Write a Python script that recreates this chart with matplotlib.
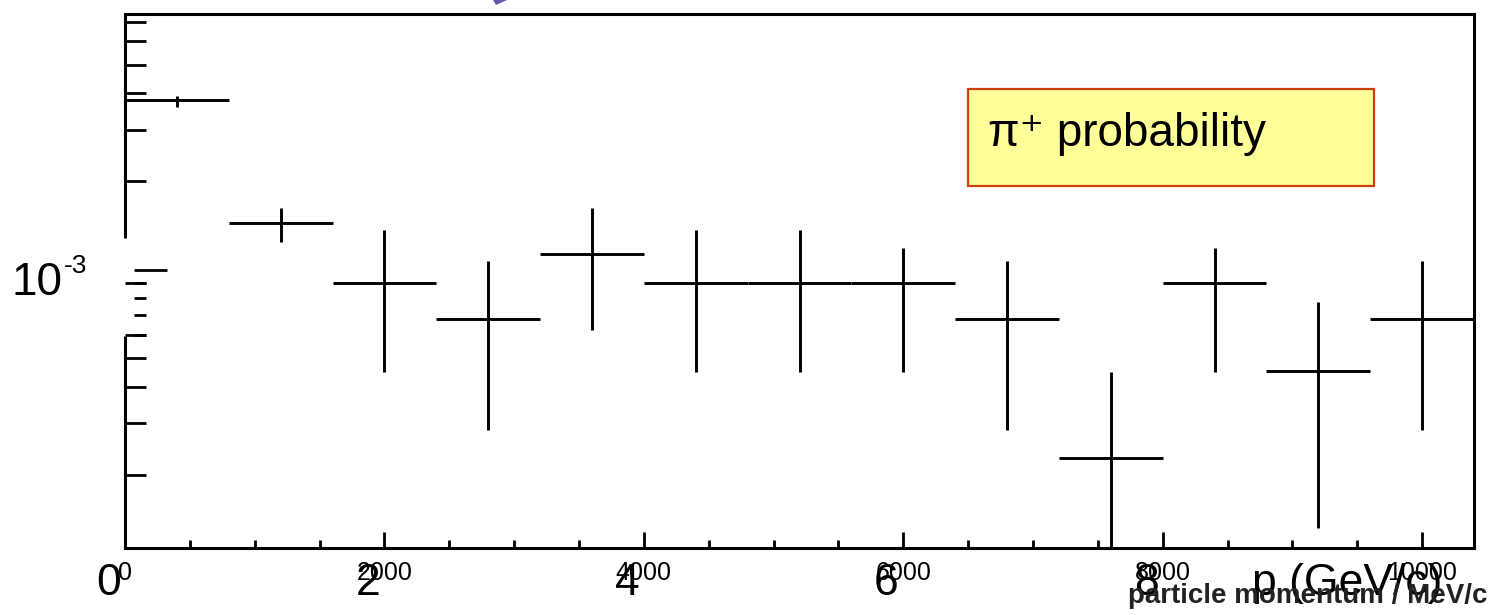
import numpy as np
import matplotlib.pyplot as plt
from matplotlib.patches import Rectangle, Polygon
from matplotlib.ticker import NullFormatter, FixedLocator

plt.rcParams['font.family'] = ['Liberation Sans', 'DejaVu Sans']

# histogram: 13 bins of 800 MeV/c
bin_edges = np.arange(0, 10400 + 1, 800)
bin_centers = (bin_edges[:-1] + bin_edges[1:]) / 2
# pi+ probability
prob = [3.78e-3, 1.44e-3, 9.0e-4, 6.8e-4, 1.13e-3, 9.0e-4, 9.0e-4,
        9.0e-4, 6.8e-4, 2.28e-4, 9.0e-4, 4.53e-4, 6.8e-4]
err_up = [0.14e-3, 0.18e-3, 4.7e-4, 3.9e-4, 5.0e-4, 4.7e-4, 4.7e-4,
          2.9e-4, 3.9e-4, 2.22e-4, 2.9e-4, 3.25e-4, 3.9e-4]
err_dn = [0.19e-3, 0.195e-3, 4.5e-4, 3.95e-4, 5.05e-4, 4.5e-4, 4.5e-4,
          4.5e-4, 3.95e-4, 2.27e-4, 4.5e-4, 3.21e-4, 3.95e-4]

gev_ticks = [0, 2, 4, 6, 8]
mev_ticks = [0, 2000, 4000, 6000, 8000, 10000]

fig = plt.figure(figsize=(14.92, 6.15), dpi=100)
ax = fig.add_axes([125 / 1492, 67 / 615, 1349 / 1492, 534 / 615])

ax.errorbar(bin_centers, prob, xerr=400, yerr=[err_dn, err_up],
            fmt='none', ecolor='black', elinewidth=2.1, capsize=0)

ax.set_yscale('log')
ax.set_xlim(0, 10400)
ax.set_ylim(1.13e-4, 7.43e-3)

# ROOT-like frame
for s in ['top', 'right', 'bottom']:
    ax.spines[s].set_linewidth(2.2)
ax.spines['left'].set_visible(False)
# left axis line is broken around the 10^-3 label
ax.plot([0, 0], [0, 0.397], transform=ax.transAxes, color='black',
        lw=2.2, clip_on=False, solid_capstyle='butt')
ax.plot([0, 0], [0.5805, 1.0], transform=ax.transAxes, color='black',
        lw=2.2, clip_on=False, solid_capstyle='butt')

ax.xaxis.set_major_locator(FixedLocator(mev_ticks))
ax.xaxis.set_minor_locator(FixedLocator(np.arange(0, 10400, 500)))
ax.tick_params(axis='x', which='major', direction='in', length=11.5,
               width=2.0, labelsize=18, pad=9, top=False)
ax.tick_params(axis='x', which='minor', direction='in', length=5.8,
               width=2.0, top=False)

# y ticks: the ones inside the broken piece are shifted to the right
minor_vals = [m * 10.0 ** e for e in (-4, -3) for m in range(2, 10)]
gap_vals = [6e-4, 7e-4, 8e-4, 9e-4]
ax.yaxis.set_major_locator(FixedLocator([]))
ax.yaxis.set_minor_locator(FixedLocator([v for v in minor_vals if v not in gap_vals]))
ax.yaxis.set_minor_formatter(NullFormatter())
ax.tick_params(axis='y', which='minor', direction='in', length=15,
               width=2.0, right=False)
ytick_tr = ax.get_yaxis_transform()
for v in gap_vals:
    ax.plot([0.0067, 0.0156], [v, v], transform=ytick_tr, color='black',
            lw=2.0, clip_on=False, solid_capstyle='butt')
ax.plot([0.0067, 0.031], [1e-3, 1e-3], transform=ytick_tr, color='black',
        lw=2.0, clip_on=False, solid_capstyle='butt')

# 10^-3 label
ax.annotate('10', xy=(0, 1e-3), xycoords=('axes fraction', 'data'),
            xytext=(-45, -18), textcoords='offset points',
            ha='right', va='baseline', fontsize=33)
ax.annotate('-3', xy=(0, 1e-3), xycoords=('axes fraction', 'data'),
            xytext=(-44, -2), textcoords='offset points',
            ha='left', va='baseline', fontsize=19)

# big GeV labels pasted over the axis
for g in gev_ticks:
    ax.annotate(str(g), xy=(g * 1000, 0), xycoords=('data', 'axes fraction'),
                xytext=(-12, -34), textcoords='offset points',
                ha='center', va='baseline', fontsize=32)
fig.text(1252 / 1492, 20 / 615, 'p (GeV/c)', ha='left', va='baseline',
         fontsize=32)
fig.text(1488 / 1492, 12 / 615, 'particle momentum / MeV/c', ha='right',
         va='baseline', fontsize=20, fontweight='bold', color='#222222')

# legend box
ax.add_patch(Rectangle((0.625, 0.678), 0.301, 0.1816, transform=ax.transAxes,
                       facecolor='#ffff99', edgecolor='#cc4010', lw=1.6,
                       zorder=5))
ax.text(0.640, 0.753, 'π⁺ probability', transform=ax.transAxes,
        ha='left', va='baseline', fontsize=33, zorder=6)

# tip of a purple arrow cut off at the top edge
fig.patches.append(Polygon([(493 / 1492, 1.0), (507 / 1492, 1.0),
                            (496 / 1492, 610 / 615)], closed=True,
                           transform=fig.transFigure, facecolor='#5b5ea6',
                           edgecolor='none'))

fig.savefig('out.png', dpi=100)
